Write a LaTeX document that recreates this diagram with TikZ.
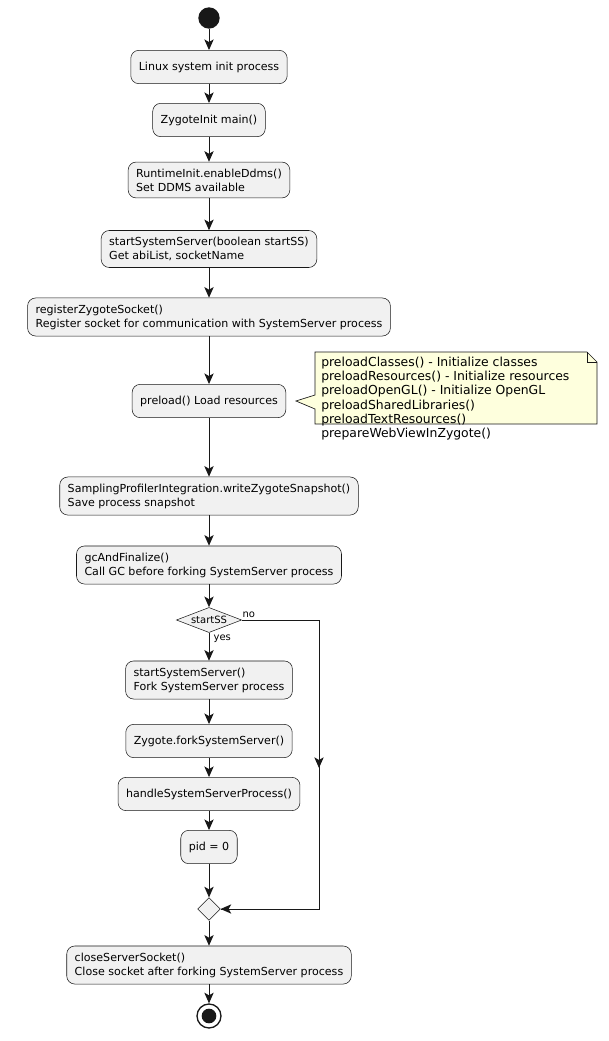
\documentclass[tikz,border=0pt]{standalone}
\usepackage{fontspec}
\setmainfont{DejaVu Sans}
\usetikzlibrary{arrows.meta,shapes.geometric,positioning}
\definecolor{boxfill}{HTML}{F1F1F1}
\definecolor{boxline}{HTML}{181818}
\definecolor{notefill}{HTML}{FEFFDD}
\tikzset{
  act/.style={draw=boxline,fill=boxfill,rounded corners=6pt,align=left,
    font=\fontsize{8.3}{10.5}\selectfont,inner xsep=6pt,inner ysep=5pt,minimum height=25pt},
  cond/.style={draw=boxline,fill=boxfill,shape=diamond,aspect=2.6,inner sep=1pt,
    font=\fontsize{7.5}{9}\selectfont},
  flow/.style={draw=boxline,line width=0.75pt,-{Stealth[length=8pt,width=7pt,inset=2pt]}},
  lbl/.style={font=\fontsize{7.5}{9}\selectfont,inner sep=1pt}
}
\begin{document}
\begin{tikzpicture}[x=0.75pt,y=-0.75pt]
\useasboundingbox (0,0) rectangle (608,1041);
\node[circle,fill=boxline,minimum size=16pt,inner sep=0] (start) at (209,18) {};
\node[act] (n1) at (209,67) {Linux system init process};
\node[act] (n2) at (209,120) {ZygoteInit main()};
\node[act] (n3) at (209,180) {RuntimeInit.enableDdms()\\Set DDMS available};
\node[act] (n4) at (209,249) {startSystemServer(boolean startSS)\\Get abiList, socketName};
\node[act] (n5) at (209,317) {registerZygoteSocket()\\Register socket for communication with SystemServer process};
\node[act] (n6) at (209,401) {preload() Load resources};
\node[act] (n7) at (209,496) {SamplingProfilerIntegration.writeZygoteSnapshot()\\Save process snapshot};
\node[act] (n8) at (209,565) {gcAndFinalize()\\Call GC before forking SystemServer process};
\node[cond] (d1) at (209,620) {startSS};
\node[act] (n9) at (209,680) {startSystemServer()\\Fork SystemServer process};
\node[act] (n10) at (209,741) {Zygote.forkSystemServer()};
\node[act] (n11) at (209,794) {handleSystemServerProcess()};
\node[act] (n12) at (209,847) {pid = 0};
\node[cond,minimum width=17pt,minimum height=17pt,aspect=1] (d2) at (209,909) {};
\node[act] (n13) at (209,965) {closeServerSocket()\\Close socket after forking SystemServer process};
\node[circle,draw=boxline,line width=1pt,minimum size=18pt,inner sep=0] (stop) at (209,1016) {};
\node[circle,fill=boxline,minimum size=11pt,inner sep=0] at (stop) {};
% note
\draw[draw=boxline,fill=notefill,line width=0.5pt]
  (315,352) -- (587,352) -- (597,362) -- (597,424) -- (315,424) -- (315,409)
  -- (296,401) -- (315,395) -- cycle;
\draw[draw=boxline,line width=0.5pt] (587,352) -- (587,362) -- (597,362);
\node[align=left,anchor=north west,font=\fontsize{9.3}{10.6}\selectfont,inner sep=0] (note) at (321,357)
  {preloadClasses() - Initialize classes\\preloadResources() - Initialize resources\\
   preloadOpenGL() - Initialize OpenGL\\preloadSharedLibraries()\\
   preloadTextResources()\\prepareWebViewInZygote()};
% flow
\foreach \a/\b in {start/n1,n1/n2,n2/n3,n3/n4,n4/n5,n5/n6,n6/n7,n7/n8,n8/d1,d1/n9,n9/n10,n10/n11,n11/n12,n12/d2,d2/n13,n13/stop}
  \draw[flow] (\a) -- (\b);
\coordinate (c1) at (319,620);
\coordinate (c2) at (319,909);
\draw[draw=boxline,line width=0.75pt] (d1.east) -- (c1) -- (c2) -- (d2.east);
\draw[flow] (c1) -- (319,768);
\draw[flow] (c2) -- (d2.east);
\node[lbl,anchor=south west] at (241,619) {no};
\node[lbl,anchor=north west] at (212,633) {yes};
\end{tikzpicture}
\end{document}
